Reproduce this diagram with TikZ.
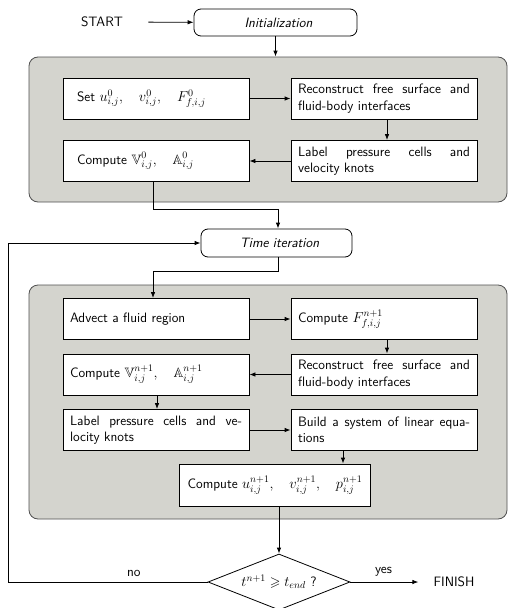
\documentclass[tikz,border=0pt]{standalone}
\usepackage{amssymb}
\usetikzlibrary{arrows.meta,shapes.geometric,calc}
\definecolor{panel}{RGB}{212,212,206}
\definecolor{panelborder}{RGB}{80,80,80}
\begin{document}
\begin{tikzpicture}[x=1pt,y=-1pt,
  every node/.style={font=\fontsize{13.6}{16.5}\selectfont\sffamily},
  arr/.style={line width=0.8pt,-{Latex[length=6pt,width=4.5pt]}},
  ln/.style={line width=0.8pt},
  stepbox/.style={draw,line width=0.8pt,fill=white,minimum width=186pt,minimum height=41pt,text width=172pt,align=justify,inner xsep=7pt,inner ysep=2pt},
  roundbox/.style={draw,line width=0.8pt,fill=white,rounded corners=7pt,inner sep=0pt},
  panelbox/.style={draw=panelborder,line width=0.8pt,fill=panel,rounded corners=9pt,minimum width=478pt,inner sep=0pt},
]
\useasboundingbox (0,0) rectangle (509,608);
% panels
\node[panelbox,minimum height=145pt] (g1) at (268,129.5) {};
\node[panelbox,minimum height=234pt] (g2) at (268,402) {};
% top
\node (start) at (102,22) {START};
\node[roundbox,minimum width=163pt,minimum height=27pt] (init) at (275.5,22.5) {\hspace*{6pt}\textit{Initialization}};
% first panel
\node[stepbox] (set) at (156,98.5) {\hspace*{7pt}Set $u^{0}_{i,j},\quad v^{0}_{i,j},\quad F^{0}_{f,i,j}$\hfill\null};
\node[stepbox] (rec1) at (384,98.5) {Reconstruct free surface and\linebreak fluid-body interfaces};
\node[stepbox] (comp0) at (156,161) {\hspace*{7pt}Compute $\mathbb{V}^{0}_{i,j},\quad \mathbb{A}^{0}_{i,j}$\hfill\null};
\node[stepbox] (lab0) at (384,161) {Label pressure cells and\linebreak velocity knots};
% time iteration
\node[roundbox,minimum width=151pt,minimum height=28pt] (time) at (276.5,243) {\hspace*{6pt}\textit{Time iteration}};
% second panel
\node[stepbox] (adv) at (156,319) {Advect a fluid region\hfill\null};
\node[stepbox] (compF) at (384,319) {Compute $F^{n+1}_{f,i,j}$\hfill\null};
\node[stepbox] (rec2) at (384,374.5) {Reconstruct free surface and\linebreak fluid-body interfaces};
\node[stepbox] (compV) at (156,374.5) {Compute $\mathbb{V}^{n+1}_{i,j},\quad \mathbb{A}^{n+1}_{i,j}$\hfill\null};
\node[stepbox] (lab2) at (156,430) {Label pressure cells and ve-\linebreak locity knots};
\node[stepbox] (build) at (384,430) {Build a system of linear equa-\linebreak tions};
\node[draw,line width=0.8pt,fill=white,minimum height=42pt,inner xsep=8pt] (compU) at (275,485) {Compute $u^{n+1}_{i,j},\quad v^{n+1}_{i,j},\quad p^{n+1}_{i,j}$};
% decision
\node[draw,line width=0.8pt,fill=white,diamond,aspect=2.54,minimum width=142pt,minimum height=56pt,inner sep=0pt] (dec) at (279,582) {$t^{n+1}\geqslant t_{end}$ ?};
\node[inner sep=0pt] (fin) at (454,582) {FINISH};
\coordinate (noc) at (8,582);
% connectors
\draw[arr,shorten <=22pt] (start) -- (init);
\draw[arr] (init.south) -- (init.south |- g1.north);
\draw[arr] (set) -- (rec1);
\draw[arr] ([xshift=3pt]rec1.south) -- ([xshift=3pt]lab0.north);
\draw[arr] (lab0) -- (comp0);
\draw[arr] ([xshift=-3pt]comp0.south) -- ++(0,27) -| ([xshift=1.5pt]time.north);
\draw[arr] ([xshift=1.5pt]time.south) -- ++(0,14) -| ([xshift=-3pt]adv.north);
\draw[arr] (adv) -- (compF);
\draw[arr] ([xshift=3pt]compF.south) -- ([xshift=3pt]rec2.north);
\draw[arr] (rec2) -- (compV);
\draw[arr] ([xshift=1pt]compV.south) -- ([xshift=1pt]lab2.north);
\draw[arr] (lab2) -- (build);
\draw[arr] ([xshift=-41pt]build.south) -- ([xshift=-41pt]build.south |- compU.north);
\draw[arr] (dec.north |- compU.south) -- (dec.north);
\draw[arr,shorten >=15pt] (dec.east) -- (fin.west) node[pos=0.4,above=2pt] {yes};
\draw[arr] (dec.west) -- (noc) node[pos=0.37,above=2pt] {no} |- (time.west);
\end{tikzpicture}
\end{document}
